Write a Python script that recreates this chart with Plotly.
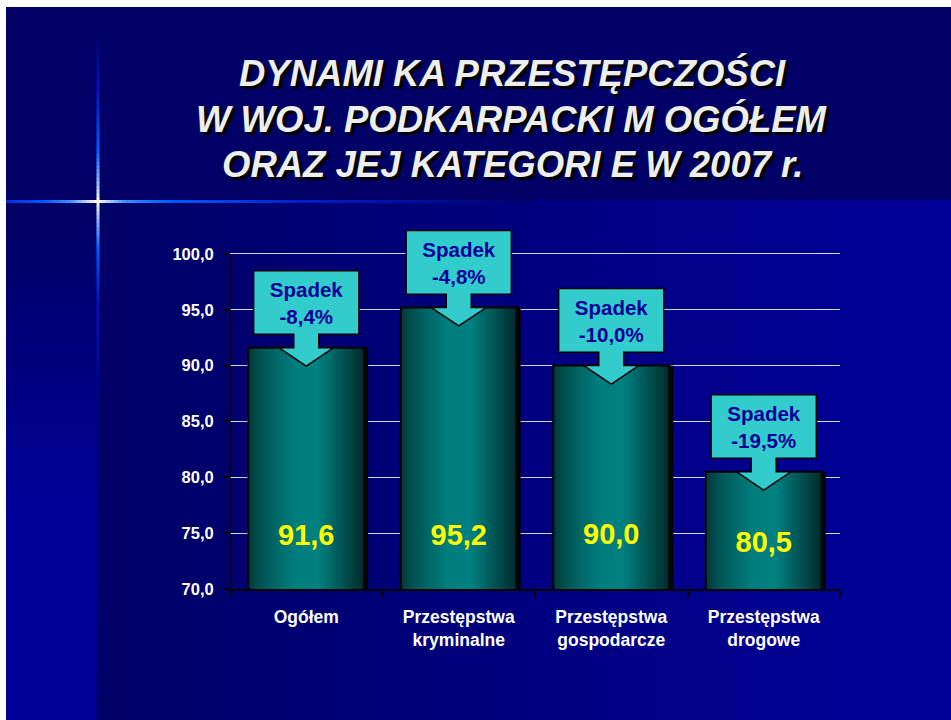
import math
import plotly.graph_objects as go

# ---------------- data ----------------
categories = ["Ogółem", "Przestępstwa<br>kryminalne", "Przestępstwa<br>gospodarcze", "Przestępstwa<br>drogowe"]
values = [91.6, 95.2, 90.0, 80.5]
changes = ["-8,4%", "-4,8%", "-10,0%", "-19,5%"]
change_word = "Spadek"
y_ticks = [70, 75, 80, 85, 90, 95, 100]
title_lines = ["DYNAMI KA PRZESTĘPCZOŚCI", "W WOJ. PODKARPACKI M OGÓŁEM", "ORAZ JEJ KATEGORI E W 2007 r."]

# ---------------- styling / layout helpers ----------------
W, H = 951, 720
PL, PR, PT, PB = 230, 840, 226, 589          # plot area in pixels
Y_RANGE = [70, 102.5]
xs = list(range(len(categories)))
label_y = [74.57, 74.57, 74.7, 73.98]         # vertical placement of value labels

def px(x):
    return (x - PL) / (PR - PL)

def py(y):
    return (PB - y) / (PB - PT)

def hexc(c):
    return "#%02x%02x%02x" % tuple(int(round(v)) for v in c)

def interp(stops, t):
    if t <= stops[0][0]:
        return stops[0][1]
    for (t0, c0), (t1, c1) in zip(stops, stops[1:]):
        if t0 <= t <= t1:
            f = (t - t0) / (t1 - t0) if t1 > t0 else 0
            return tuple(a + (b - a) * f for a, b in zip(c0, c1))
    return stops[-1][1]

shapes = []
# white frame at top / left
shapes.append(dict(type="rect", xref="paper", yref="paper", x0=px(-2), x1=px(W + 2), y0=py(7), y1=py(-2),
                   fillcolor="white", line=dict(width=0), layer="below"))
shapes.append(dict(type="rect", xref="paper", yref="paper", x0=px(-2), x1=px(6), y0=py(H + 2), y1=py(-2),
                   fillcolor="white", line=dict(width=0), layer="below"))
# title band
shapes.append(dict(type="rect", xref="paper", yref="paper", x0=px(6), x1=px(W + 2), y0=py(201), y1=py(7),
                   fillcolor="#000066", line=dict(width=0), layer="below"))
# lower area horizontal gradient
n_strips = 60
for i in range(n_strips):
    xa = 97 + (W + 2 - 97) * i / n_strips
    xb = 97 + (W + 2 - 97) * (i + 1) / n_strips + 1
    f = i / (n_strips - 1)
    col = hexc((0, 0, 102 + (153 - 102) * f))
    shapes.append(dict(type="rect", xref="paper", yref="paper", x0=px(xa), x1=px(xb), y0=py(H + 2), y1=py(200),
                       fillcolor=col, line=dict(width=0), layer="below"))
# left strip vertical gradient
n_v = 40
for i in range(n_v):
    ya = 200 + (H + 2 - 200) * i / n_v
    yb = 200 + (H + 2 - 200) * (i + 1) / n_v + 1
    yc = (ya + yb) / 2
    col = hexc(interp([(230, (0, 0, 102)), (520, (0, 0, 153))], yc))
    shapes.append(dict(type="rect", xref="paper", yref="paper", x0=px(6), x1=px(97), y0=py(yb), y1=py(ya),
                       fillcolor=col, line=dict(width=0), layer="below"))

# glowing star lines
h_stops = [(6, (0, 50, 210)), (40, (0, 80, 255)), (70, (60, 140, 255)), (88, (200, 220, 240)),
           (97, (255, 255, 204)), (106, (200, 220, 240)), (125, (60, 140, 255)), (170, (0, 90, 255)),
           (300, (0, 30, 200)), (530, (0, 0, 110))]
seg = 4
x = 6
while x < 530:
    xe = min(x + seg, 530)
    col = hexc(interp(h_stops, (x + xe) / 2))
    shapes.append(dict(type="line", xref="paper", yref="paper", x0=px(x), x1=px(xe + 0.6), y0=py(201.5), y1=py(201.5),
                       line=dict(color=col, width=3), layer="below"))
    x = xe
v_stops = [(30, (0, 0, 102)), (90, (0, 20, 180)), (150, (0, 90, 255)), (185, (150, 190, 255)),
           (201, (255, 255, 204)), (217, (150, 190, 255)), (250, (0, 90, 255)), (300, (0, 20, 180)),
           (400, (0, 0, 130)), (722, (0, 0, 110))]
y = 30
while y < 722:
    ye = min(y + seg, 722)
    col = hexc(interp(v_stops, (y + ye) / 2))
    shapes.append(dict(type="line", xref="paper", yref="paper", x0=px(98), x1=px(98), y0=py(y), y1=py(ye + 0.6),
                       line=dict(color=col, width=3), layer="below"))
    y = ye

# y axis line only up to 100
shapes.append(dict(type="line", xref="paper", yref="y", x0=0, x1=0, y0=y_ticks[0], y1=y_ticks[-1],
                   line=dict(color="black", width=1.5), layer="above"))

fig = go.Figure()

# ---------------- bars ----------------
BAR_W = 0.76
# shadow
fig.add_trace(go.Bar(x=xs, y=values, width=BAR_W, offset=-BAR_W / 2 + 0.026,
                     marker=dict(color="black", line=dict(width=0)), hoverinfo="skip", showlegend=False))
N = 36
grad = [(0.0, (0, 58, 58)), (0.12, (0, 85, 85)), (0.4, (0, 125, 125)), (0.6, (0, 128, 128)),
        (0.85, (0, 75, 75)), (1.0, (0, 42, 42))]
sw = BAR_W / N
for i in range(N):
    t = (i + 0.5) / N
    fig.add_trace(go.Bar(x=xs, y=values, width=sw * 1.35, offset=-BAR_W / 2 + i * sw,
                         marker=dict(color=hexc(interp(grad, t)), line=dict(width=0)),
                         hoverinfo="skip", showlegend=False))
# outline
fig.add_trace(go.Bar(x=xs, y=values, width=BAR_W, offset=-BAR_W / 2,
                     marker=dict(color="rgba(0,0,0,0)", line=dict(color="black", width=2)),
                     hoverinfo="skip", showlegend=False))

# value labels
fig.add_trace(go.Scatter(x=xs, y=label_y, mode="text",
                         text=[f"{v:.1f}".replace(".", ",") for v in values],
                         textfont=dict(family="Liberation Sans", size=29, color="#ffff00", weight="bold"),
                         hoverinfo="skip", showlegend=False, cliponaxis=False))

# ---------------- callouts ----------------
BW, SW, HW = 0.345, 0.082, 0.18
BOX_OFF, BOX_H, TIP = 1.2, 5.7, 1.65
cx, cy = [], []
for c, v in zip(xs, values):
    bot = v + BOX_OFF
    top = bot + BOX_H
    pts = [(c - BW, top), (c + BW, top), (c + BW, bot), (c + SW, bot), (c + SW, v), (c + HW, v),
           (c, v - TIP), (c - HW, v), (c - SW, v), (c - SW, bot), (c - BW, bot), (c - BW, top)]
    cx += [p[0] for p in pts] + [None]
    cy += [p[1] for p in pts] + [None]
fig.add_trace(go.Scatter(x=cx, y=cy, mode="lines", fill="toself", fillcolor="#33cccc",
                         line=dict(color="black", width=1.5), hoverinfo="skip", showlegend=False))
fig.add_trace(go.Scatter(x=xs, y=[v + BOX_OFF + BOX_H / 2 - 0.25 for v in values], mode="text",
                         text=[f"{change_word}<br>{ch}" for ch in changes],
                         textfont=dict(family="Liberation Sans", size=20.5, color="#000099", weight="bold"),
                         hoverinfo="skip", showlegend=False, cliponaxis=False))

# ---------------- title ----------------
annotations = []
title_y = [73.5, 119, 164]
for line, ty in zip(title_lines, title_y):
    annotations.append(dict(text=line, xref="paper", yref="paper", x=px(512), y=py(ty),
                            xanchor="center", yanchor="middle", showarrow=False,
                            font=dict(family="Liberation Sans", size=36.5, color="#eeeeee",
                                      weight="bold", style="italic", shadow="3px 3px 1px #000000")))

fig.update_layout(
    width=W, height=H,
    margin=dict(l=PL, r=W - PR, t=PT, b=H - PB, autoexpand=False),
    paper_bgcolor="#000066", plot_bgcolor="rgba(0,0,0,0)",
    barmode="overlay", showlegend=False, separators=", ",
    shapes=shapes, annotations=annotations,
    xaxis=dict(range=[-0.5, len(categories) - 0.5], tickmode="array", tickvals=xs, ticktext=categories,
               ticks="", showgrid=False, zeroline=False, showline=True, linecolor="black", linewidth=1.5,
               tickfont=dict(family="Liberation Sans", size=17.5, color="white", weight="bold"),
               ticklabelstandoff=11,
               minor=dict(tick0=-0.5, dtick=1, ticks="outside", ticklen=6, tickcolor="black", tickwidth=1.5,
                          showgrid=False)),
    yaxis=dict(range=Y_RANGE, tickmode="array", tickvals=y_ticks, tickformat=".1f",
               ticks="outside", ticklen=6, tickcolor="black", tickwidth=1.5,
               showgrid=True, gridcolor="#d4d4ff", gridwidth=1.3, zeroline=False, showline=False,
               tickfont=dict(family="Liberation Sans", size=16.5, color="white", weight="bold"),
               ticklabelstandoff=6),
)

fig.write_html("out.html", config={"displayModeBar": False},
               post_script="document.body.style.margin='0';document.body.style.padding='0';"
                           "document.documentElement.style.overflow='hidden';")
